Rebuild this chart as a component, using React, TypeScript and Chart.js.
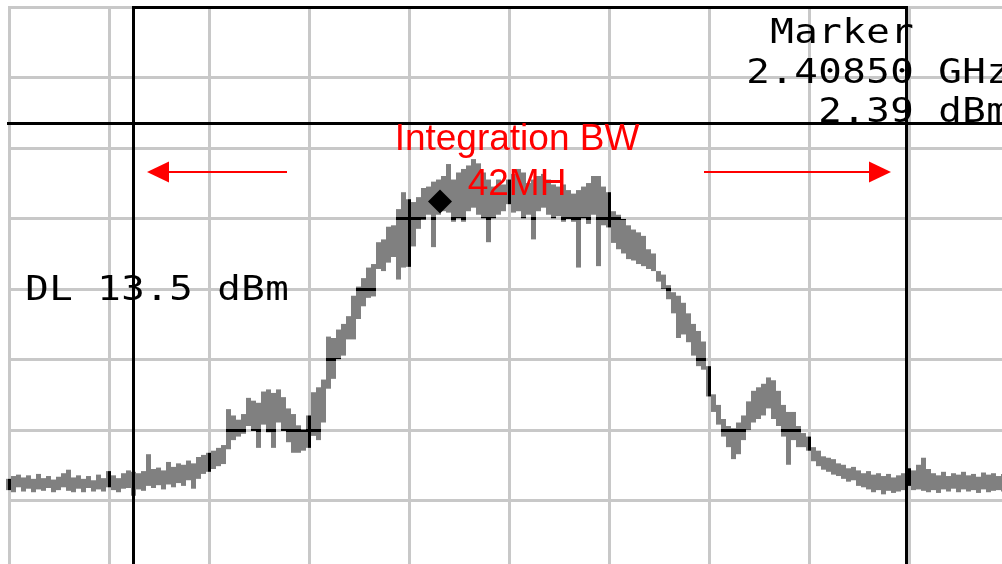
import React, { useEffect, useRef } from "react";
import { Chart, registerables } from "chart.js";

Chart.register(...registerables);

// ---- data (x in screen divisions, y in dBm); each sweep bucket holds its max and min ----
const traceStartDiv = -0.005;
const traceStepDiv = 0.05;
const traceHighDbm: number[] = [
  -37.0, -36.6, -36.4, -36.8, -36.5, -37.0, -36.3, -36.9, -36.6, -37.1,
  -36.7, -36.2, -35.7, -36.8, -36.5, -37.0, -36.6, -37.2, -36.4, -36.9,
  -35.9, -36.5, -36.9, -36.2, -35.8, -36.0, -36.2, -35.9, -33.5, -35.6,
  -35.4, -35.8, -34.6, -35.3, -34.8, -35.0, -34.4, -34.8, -33.9, -33.6,
  -33.3, -33.0, -32.6, -32.2, -27.1, -28.0, -28.6, -27.8, -25.5, -25.9,
  -26.2, -24.6, -24.3, -24.8, -24.3, -25.4, -27.0, -27.8, -29.4, -30.0,
  -28.0, -24.7, -24.0, -22.9, -16.8, -17.0, -15.8, -15.0, -13.9, -11.0,
  -9.7, -8.5, -7.0, -6.5, -3.4, -3.0, -1.2, -1.0, 1.3, 3.7,
  2.7, 2.3, 3.0, 4.3, 4.5, 5.2, 5.5, 6.0, 7.7, 5.5,
  6.5, 7.0, 7.5, 8.4, 7.8, 6.5, 5.5, 4.5, 5.5, 4.8,
  5.5, 6.3, 7.0, 6.5, 5.0, 5.5, 6.0, 6.3, 5.5, 4.8,
  4.5, 4.8, 4.0, 3.5, 4.0, 4.5, 5.0, 6.0, 6.0, 4.5,
  3.7, 1.0, 0.5, -0.1, -1.0, -1.6, -2.0, -2.5, -4.4, -5.0,
  -7.5, -8.0, -9.5, -10.5, -11.0, -12.0, -13.5, -15.0, -16.0, -17.5,
  -21.0, -25.0, -26.5, -28.5, -29.5, -29.8, -29.0, -28.0, -26.0, -24.5,
  -24.0, -23.5, -22.6, -23.0, -24.5, -26.5, -27.5, -27.5, -29.5, -30.5,
  -31.0, -32.5, -33.0, -33.8, -34.0, -34.2, -34.8, -35.0, -35.5, -35.3,
  -35.8, -36.2, -35.9, -36.4, -36.2, -36.6, -36.3, -36.8, -36.5, -36.2,
  -35.5, -35.8, -35.0, -34.0, -35.6, -36.2, -36.5, -36.0, -36.6, -36.2,
  -36.4, -36.0, -36.5, -36.3, -36.7, -36.1, -36.4, -36.2, -36.6, -36.3,
];
const traceLowDbm: number[] = [
  -38.6, -38.9, -38.2, -38.8, -38.4, -38.9, -38.5, -38.7, -38.3, -38.9,
  -38.6, -38.2, -38.7, -38.9, -38.4, -38.9, -38.3, -38.8, -38.5, -38.8,
  -38.2, -38.6, -38.9, -38.4, -38.3, -39.4, -38.5, -38.7, -38.0, -38.3,
  -37.9, -38.5, -37.8, -38.2, -37.6, -38.0, -37.2, -38.4, -37.0, -36.3,
  -36.0, -35.6, -35.2, -34.9, -32.8, -31.5, -31.0, -30.6, -29.5, -30.2,
  -32.6, -29.3, -30.4, -32.6, -29.0, -30.2, -31.8, -33.3, -33.3, -33.0,
  -32.6, -30.9, -31.5, -29.0, -24.2, -22.8, -20.0, -19.5, -17.2, -17.2,
  -14.3, -12.5, -11.3, -11.1, -7.2, -7.5, -6.3, -5.5, -8.7, -7.0,
  -6.9, -4.0, -1.5, -0.2, 0.5, -4.1, 0.5, 1.0, 0.8, -0.5,
  0.0, -0.5, 1.0, 1.5, 0.5, 0.0, -3.4, 0.0, 0.5, 1.0,
  2.0, 0.8, 1.0, 0.0, 0.5, -3.0, 1.0, 1.5, 0.5, 0.0,
  0.3, -0.5, -0.1, -0.5, -7.0, 0.0, -0.8, 0.5, -6.8, -1.0,
  -1.3, -3.5, -4.4, -5.0, -5.8, -6.0, -6.5, -6.8, -7.2, -7.5,
  -9.0, -10.0, -11.5, -13.5, -17.0, -16.5, -17.6, -19.5, -21.0, -21.5,
  -25.3, -27.5, -29.3, -31.0, -32.5, -34.2, -33.5, -31.5, -30.0, -29.0,
  -28.5, -28.0, -27.0, -28.5, -29.5, -31.0, -35.0, -31.5, -32.5, -32.5,
  -33.0, -34.5, -35.2, -35.7, -36.0, -36.4, -36.6, -37.0, -37.4, -37.2,
  -38.0, -38.2, -38.5, -38.9, -38.6, -39.2, -38.7, -39.0, -38.8, -38.6,
  -38.0, -38.6, -38.5, -38.7, -38.9, -38.6, -39.0, -38.5, -38.8, -38.4,
  -38.9, -38.5, -38.8, -38.6, -39.0, -38.5, -38.9, -38.7, -38.6, -38.8,
];

const markerFreqDiv = 4.31;
const markerDbm = 2.39;

const xGridDivs = [0, 1, 2, 3, 4, 5, 6, 7, 8, 9, 10];
const yGridDbm = [30, 20, 10, 0, -10, -20, -30, -40, -50];
const refLevelDbm = 30;
const displayLineDbm = 13.5;
const integrationLeftDiv = 1.24;
const integrationRightDiv = 8.97;

const xMinDiv = -0.09;
const xMaxDiv = 9.93;
const yMinDbm = -49.09;
const yMaxDbm = 30.99;

const markerTitle = "Marker";
const markerFreqText = "2.40850";
const markerFreqUnit = "GHz";
const markerLevelText = "2.39";
const markerLevelUnit = "dBm";
const displayLineText = "DL 13.5 dBm";
const bwTitle = "Integration BW";
const bwValue = "42MH";

const W = 1002;
const H = 564;

function monoText(ctx: CanvasRenderingContext2D, s: string, left: number, baseline: number, pitch = 24) {
  ctx.textAlign = "center";
  ctx.textBaseline = "alphabetic";
  for (let i = 0; i < s.length; i++) {
    ctx.save();
    ctx.translate(left + i * pitch + pitch / 2, baseline);
    ctx.scale(1.15, 1);
    ctx.fillText(s[i], 0, 0);
    ctx.restore();
  }
}

function arrow(ctx: CanvasRenderingContext2D, tail: number, tip: number, y: number) {
  const dir = Math.sign(tip - tail);
  const base = tip - dir * 22;
  ctx.fillStyle = "#ff0000";
  ctx.fillRect(Math.min(tail, base), y - 1, Math.abs(base - tail), 2);
  ctx.beginPath();
  ctx.moveTo(tip, y);
  ctx.lineTo(base, y - 10.5);
  ctx.lineTo(base, y + 10.5);
  ctx.closePath();
  ctx.fill();
}

const overlayPlugin = {
  id: "analyzerOverlay",
  afterDatasetsDraw(chart: any) {
    const ctx: CanvasRenderingContext2D = chart.ctx;
    const xs = chart.scales.x;
    const ys = chart.scales.y;
    const gx = xGridDivs.map((v) => Math.round(xs.getPixelForValue(v)));
    const gy = yGridDbm.map((v) => Math.round(ys.getPixelForValue(v)));
    const x0 = gx[0];
    const y0 = gy[0];
    const drawGrid = (color: string) => {
      ctx.fillStyle = color;
      gx.forEach((x) => ctx.fillRect(x - 1, y0 - 1, 3, H - y0 + 2));
      gy.forEach((y) => ctx.fillRect(x0 - 1, y - 1, W - x0 + 2, 3));
    };
    ctx.save();
    ctx.globalCompositeOperation = "source-atop";
    drawGrid("#000000");
    ctx.globalCompositeOperation = "destination-over";
    drawGrid("#c8c8c8");
    ctx.globalCompositeOperation = "source-over";

    // black lines
    ctx.fillStyle = "#000000";
    const yRef = Math.round(ys.getPixelForValue(refLevelDbm));
    const yDl = Math.round(ys.getPixelForValue(displayLineDbm));
    const xl = Math.round(xs.getPixelForValue(integrationLeftDiv));
    const xr = Math.round(xs.getPixelForValue(integrationRightDiv));
    ctx.fillRect(7, yDl - 1, W, 3);
    ctx.fillRect(xl - 1, yRef - 1, xr - xl + 3, 3);
    ctx.fillRect(xl - 1, yRef - 1, 3, H);
    ctx.fillRect(xr - 1, yRef - 1, 3, H);

    // annotation text
    ctx.fillStyle = "#000000";
    ctx.font = "34px 'DejaVu Sans Mono', monospace";
    monoText(ctx, markerTitle, 914 - markerTitle.length * 24, 43);
    monoText(ctx, markerFreqText, 914 - markerFreqText.length * 24, 83);
    monoText(ctx, markerFreqUnit, 938, 83);
    monoText(ctx, markerLevelText, 914 - markerLevelText.length * 24, 122);
    monoText(ctx, markerLevelUnit, 938, 122);
    monoText(ctx, displayLineText, 25, 300);

    ctx.fillStyle = "#ff0000";
    ctx.font = "37px 'Liberation Sans', Arial, sans-serif";
    ctx.textAlign = "center";
    ctx.fillText(bwTitle, 517, 150);
    ctx.fillText(bwValue, 517, 195);

    arrow(ctx, 287, 147, 172);
    arrow(ctx, 704, 891, 172);
    ctx.restore();
  },
};

export default function App() {
  const ref = useRef<HTMLCanvasElement | null>(null);
  useEffect(() => {
    if (!ref.current) return;
    const traceBars = traceHighDbm.map((hi, i) => ({
      x: traceStartDiv + i * traceStepDiv,
      y: [traceLowDbm[i], hi],
    }));
    const chart = new Chart(ref.current, {
      type: "bar",
      data: {
        datasets: [
          {
            type: "scatter",
            data: [{ x: markerFreqDiv, y: markerDbm }],
            pointStyle: "rectRot",
            pointRadius: 12,
            pointBackgroundColor: "#000000",
            pointBorderColor: "#000000",
            pointBorderWidth: 0,
            showLine: false,
          } as any,
          {
            type: "bar",
            data: traceBars,
            backgroundColor: "#808080",
            borderWidth: 0,
            barThickness: 5,
            grouped: false,
            inflateAmount: 0,
          } as any,
        ],
      },
      options: {
        animation: false,
        responsive: false,
        devicePixelRatio: 1,
        events: [],
        layout: { padding: 0, autoPadding: false },
        plugins: { legend: { display: false }, tooltip: { enabled: false } },
        scales: {
          x: { type: "linear", display: false, offset: false, min: xMinDiv, max: xMaxDiv },
          y: { type: "linear", display: false, min: yMinDbm, max: yMaxDbm },
        },
      },
      plugins: [overlayPlugin],
    });
    return () => chart.destroy();
  }, []);
  return (
    <div style={{ position: "fixed", left: 0, top: 0, width: W, height: H, overflow: "hidden", background: "#ffffff" }}>
      <canvas ref={ref} width={W} height={H} style={{ display: "block", width: W, height: H }} />
    </div>
  );
}
